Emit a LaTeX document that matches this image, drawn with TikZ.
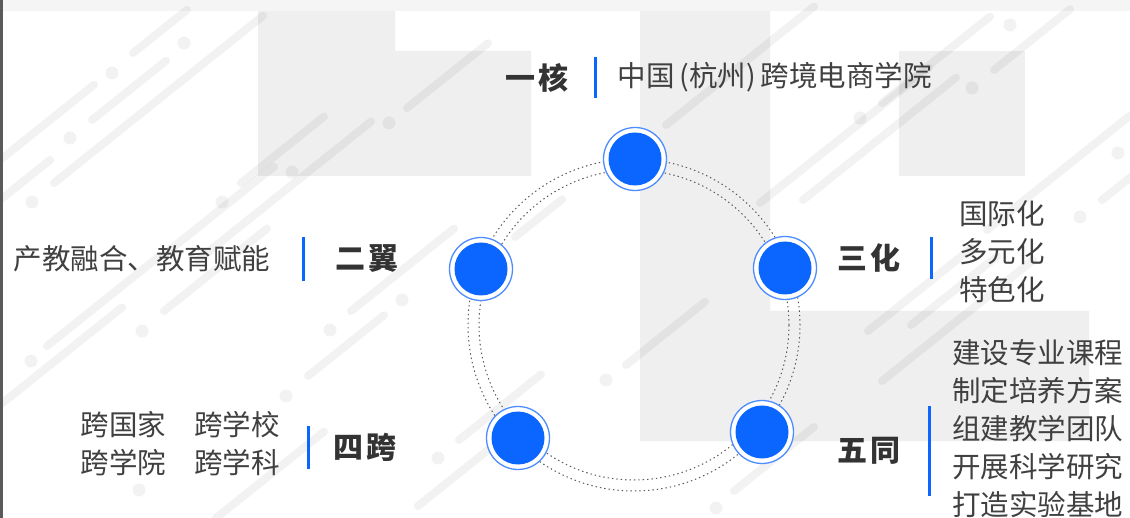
\documentclass[tikz,border=0pt]{standalone}
\usepackage{fontspec}
\setmainfont{Noto Sans CJK SC}
\usetikzlibrary{positioning}
\definecolor{coreblue}{HTML}{0A66FF}
\definecolor{ringblue}{HTML}{4D8DFF}
\definecolor{txtgray}{HTML}{404040}
\definecolor{titlegray}{HTML}{333333}
\definecolor{panelgray}{HTML}{EFEFEF}
\definecolor{bordergray}{HTML}{5A5A5A}
\tikzset{
hub/.style={ % blue disc with a thin outer ring
circle, draw=ringblue, line width=1.3pt, fill=white,
minimum size=63pt, inner sep=0pt,
path picture={\fill[coreblue] (path picture bounding box.center) circle (26.5pt);}},
bar/.style={fill=coreblue, minimum width=3pt, inner sep=0pt},
title/.style={font=\bfseries\fontsize{30}{34}\selectfont, text=titlegray, inner sep=0pt},
item/.style={font=\fontsize{28.5}{38}\selectfont, text=txtgray, inner sep=0pt, align=left},
streak/.style={black, opacity=0.05, line width=8pt, line cap=round},
ring/.style={black!65, line width=1pt, dash pattern=on 1.4pt off 3pt}}

\begin{document}
\begin{tikzpicture}[x=1pt,y=-1pt]
    \useasboundingbox (0,0) rectangle (1130,518);
    \clip (0,0) rectangle (1130,518);
    \fill[white] (0,0) rectangle (1130,518);
    \fill[black!4] (0,0) rectangle (1130,11);

    % background panels
    \fill[panelgray] (258,11) rectangle (395,176) (395,51) rectangle (531,176);
    \fill[panelgray] (640,11) rectangle (770,441) (770,311) rectangle (1089,441);
    \fill[panelgray] (899,51) rectangle (1025,176);

    % diagonal streaks and dots
    \foreach \x/\y/\l in {133/53/54, 92/120/74, 54/183/209, 0/160/94, 0/200/50, 241/183/83,
        407/108/81, 166/253/108, 198/260/173, 515/237/47, 666/125/148, 760/203/169,
        803/200/153, 882/103/108, 994/70/76, 1102/200/40, 987/230/143, 47/346/112,
        164/311/103, 0/405/122, 308/376/76, 351/311/103, 459/440/82, 418/506/87,
        216/518/108, 626/365/79, 734/491/80, 868/331/104, 911/325/86, 882/381/151}
        \draw[streak] (\x,\y) -- ++(\l,-0.8*\l);
    \foreach \x/\y in {184/43, 112/73, 70/138, 32/202, 292/172, 389/123, 222/202, 860/118,
        972/88, 1010/25, 1118/153, 1080/217, 31/361, 142/331, 330/330, 402/300, 286/396,
        438/458, 139/490, 606/380, 716/508}
        \fill[black, opacity=0.05] (\x,\y) circle (6.5pt);

    % dotted double ring
    \draw[ring] (634,325) circle (155pt);
    \draw[ring] (634,325) circle (166pt);

    \node[hub] (core) at (635,159) {};
    \node[hub] (wing) at (481,269) {};
    \node[hub] (shift) at (785,268) {};
    \node[hub] (cross) at (518,438) {};
    \node[hub] (joint) at (762,432) {};

    \node[bar, minimum height=41pt] (corebar) at (595,77.5) {};
    \node[title, left=25pt of corebar] (coret) {一\kern3pt 核};
    \node[item, right=21pt of corebar] (cored) {中国\,(杭州)\,跨境电商学院};

    \node[bar, minimum height=44pt] (wingbar) at (303,259) {};
    \node[title, right=31pt of wingbar] (wingt) {二\kern3pt 翼};
    \node[item, left=31pt of wingbar] (wingd) {产教融合、教育赋能};

    \node[bar, minimum height=42pt] (shiftbar) at (931,258) {};
    \node[title, left=29pt of shiftbar] (shiftt) {三\kern3pt 化};
    \node[item, anchor=west] (shiftd) at (959,251.5) {国际化\\多元化\\特色化};

    \node[bar, minimum height=43pt] (crossbar) at (308,447.5) {};
    \node[title, right=24pt of crossbar] (crosst) {四\kern3pt 跨};
    \node[item, anchor=east] (crossd) at (280,443.5) {跨国家\hspace{28pt}跨学校\\跨学院\hspace{28pt}跨学科};

    \node[bar, minimum height=90pt] (jointbar) at (929,451) {};
    \node[title, left=27pt of jointbar] (jointt) {五\kern3pt 同};
    \node[item, anchor=west] (jointd) at (952,429) {建设专业课程\\制定培养方案\\组建教学团队\\开展科学研究\\打造实验基地};

    \draw[bordergray, line width=2.5pt] (1.5,0) -- (1.5,518);
\end{tikzpicture}
\end{document}
